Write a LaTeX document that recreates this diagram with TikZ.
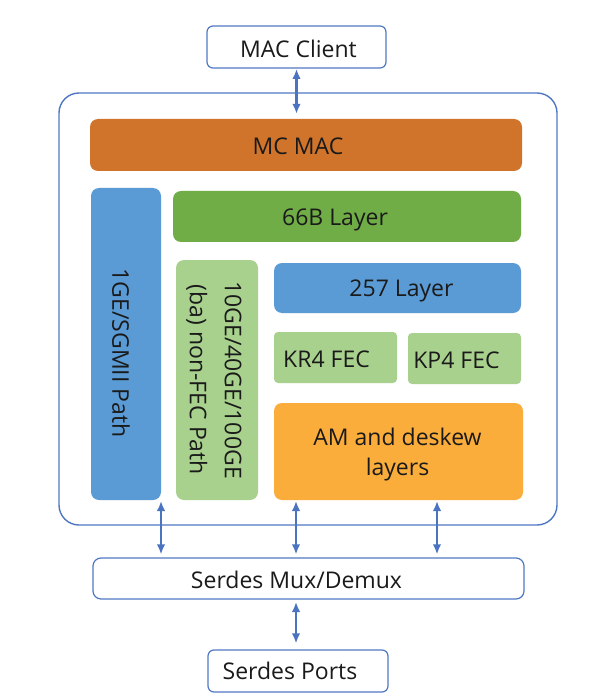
\documentclass[tikz,border=0pt]{standalone}
\usepackage{fontspec}
\setmainfont{Open Sans}
\usetikzlibrary{arrows.meta,calc}
\definecolor{linecol}{HTML}{4F78C4}
\definecolor{arrcol}{HTML}{4A74C0}
\definecolor{macorange}{HTML}{D0742B}
\definecolor{blueblk}{HTML}{5B9BD5}
\definecolor{greenblk}{HTML}{70AD47}
\definecolor{lgreen}{HTML}{A9D18E}
\definecolor{amorange}{HTML}{FBAD3C}
\definecolor{txt}{HTML}{1A1A1A}
\begin{document}
\begin{tikzpicture}[x=1pt,y=-1pt,
  txtfont/.style={font=\fontsize{23}{30}\selectfont, text=txt},
  blk/.style={rounded corners=8pt, inner sep=0pt, txtfont},
  wbox/.style={draw=linecol, line width=1.2pt, fill=white, rounded corners=6pt, inner sep=0pt, txtfont},
  arr/.style={draw=arrcol, line width=2.2pt, {Latex[length=10pt,width=8.5pt]}-{Latex[length=10pt,width=8.5pt]}}]
\useasboundingbox[fill=white] (0,0) rectangle (613,700);

\node[draw=linecol, line width=1.4pt, rounded corners=20pt, minimum width=498pt, minimum height=432pt] (outer) at (308,309) {};

\node[wbox, minimum width=179pt, minimum height=42pt, label={[txtfont,xshift=2pt,yshift=-2pt]center:MAC Client}] (client) at (296.5,47) {};
\node[blk, fill=macorange, minimum width=432pt, minimum height=52pt, label={[txtfont,xshift=-8pt,yshift=-1pt]center:MC MAC}] (mcmac) at (306,145) {};
\node[blk, fill=blueblk, minimum width=70pt, minimum height=312pt, label={[txtfont,rotate=-90,xshift=9pt,yshift=-5pt]center:1GE/SGMII Path}] (ge) at (126,344) {};
\node[blk, fill=greenblk, minimum width=348pt, minimum height=51pt, label={[txtfont,xshift=-12pt,yshift=-3pt]center:66B Layer}] (l66) at (347,216.5) {};
\node[blk, fill=lgreen, minimum width=82pt, minimum height=240pt, label={[font=\fontsize{23}{35}\selectfont,text=txt,rotate=-90,align=center,yshift=-3pt]center:{10GE/40GE/100GE\\(ba) non-FEC Path}}] (ten) at (217,380) {};
\node[blk, fill=blueblk, minimum width=247pt, minimum height=50pt, label={[txtfont,xshift=4pt,yshift=-3pt]center:257 Layer}] (l257) at (397.5,288) {};
\node[blk, fill=lgreen, rounded corners=4pt, minimum width=123pt, minimum height=51pt, label={[txtfont,xshift=-9pt,yshift=-2pt]center:KR4 FEC}] (kr4) at (335.5,357.5) {};
\node[blk, fill=lgreen, rounded corners=4pt, minimum width=113pt, minimum height=51pt, label={[txtfont,xshift=-8pt,yshift=-2pt]center:KP4 FEC}] (kp4) at (464.5,358.5) {};
\node[blk, fill=amorange, minimum width=249pt, minimum height=97pt, label={[txtfont,align=center,xshift=-1pt,yshift=-3pt]center:{AM and deskew\\layers}}] (am) at (398.5,451.5) {};

\node[wbox, rounded corners=8pt, minimum width=431pt, minimum height=41pt, label={[txtfont,xshift=-12pt,yshift=-1pt]center:Serdes Mux/Demux}] (mux) at (308.5,578.5) {};
\node[wbox, minimum width=180pt, minimum height=42pt, label={[txtfont,xshift=-8pt]center:Serdes Ports}] (ports) at (298,671) {};

\coordinate (a1) at (161,501);
\coordinate (a2) at (296,501);
\coordinate (a3) at (437,501);
\coordinate (a0) at (296.5,68);
\coordinate (a4) at (296,599);

\draw[arr, shorten <=1pt, shorten >=5pt] (a0) -- (a0 |- mcmac.north);
\draw[arr, shorten >=3pt] (a1) -- (a1 |- mux.north);
\draw[arr, shorten >=3pt] (a2) -- (a2 |- mux.north);
\draw[arr, shorten >=3pt] (a3) -- (a3 |- mux.north);
\draw[arr, shorten <=3pt, shorten >=6pt] (a4) -- (a4 |- ports.north);
\end{tikzpicture}
\end{document}
